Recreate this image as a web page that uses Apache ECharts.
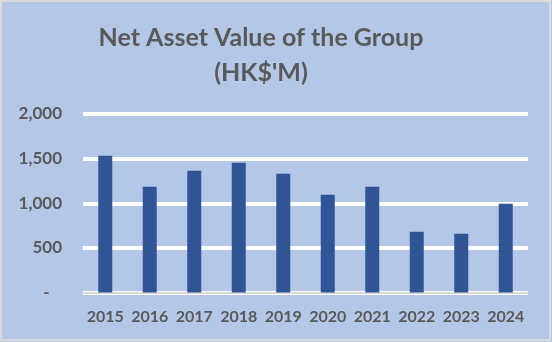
<!DOCTYPE html>
<html>
<head>
<meta charset="utf-8">
<script src="https://cdn.jsdelivr.net/npm/echarts@6/dist/echarts.min.js"></script>
<style>
html,body{margin:0;padding:0;background:#fff;}
#c{width:552px;height:342px;}
</style>
</head>
<body>
<div id="c"></div>
<script>
const titleLines = ["Net Asset Value of the Group", "(HK$'M)"];
const years = ["2015","2016","2017","2018","2019","2020","2021","2022","2023","2024"];
const navValues = [1532, 1185, 1364, 1454, 1331, 1095, 1185, 680, 658, 994];
const yTicks = [0, 500, 1000, 1500, 2000];

const chart = echarts.init(document.getElementById('c'), null, {renderer: 'canvas'});
const fontFam = 'Lato, "Open Sans", sans-serif';
chart.setOption({
  backgroundColor: '#b4c7e7',
  animation: false,
  title: {
    text: titleLines.join('\n'),
    left: 261,
    top: 20,
    padding: 0,
    textAlign: 'center',
    textStyle: {
      color: '#595959',
      fontFamily: fontFam,
      fontWeight: 'bold',
      fontSize: 25,
      lineHeight: 35
    }
  },
  graphic: [{
    type: 'rect',
    shape: {x: 1, y: 1, width: 549, height: 339},
    style: {fill: 'none', stroke: '#d9d9d9', lineWidth: 2},
    silent: true,
    z: 100
  }],
  grid: {left: 83, right: 24, top: 114, bottom: 49.5, containLabel: false},
  xAxis: {
    type: 'category',
    data: years,
    axisLine: {show: true, lineStyle: {color: '#d9d9d9', width: 2}},
    axisTick: {show: false},
    axisLabel: {
      interval: 0,
      hideOverlap: false,
      color: '#595959',
      fontFamily: fontFam,
      fontWeight: 'bold',
      fontSize: 16,
      margin: 16
    }
  },
  yAxis: {
    type: 'value',
    min: yTicks[0],
    max: yTicks[yTicks.length - 1],
    interval: 500,
    axisLine: {show: false},
    axisTick: {show: false},
    splitLine: {lineStyle: {color: '#ffffff', width: 4}},
    axisLabel: {
      color: '#595959',
      fontFamily: fontFam,
      fontWeight: 'bold',
      fontSize: 17,
      margin: 21,
      formatter: v => v === 0 ? '-   ' : v.toLocaleString('en-US')
    }
  },
  series: [{
    type: 'bar',
    data: navValues,
    barWidth: 14,
    itemStyle: {color: '#2f5597'}
  }]
});
</script>
</body>
</html>
